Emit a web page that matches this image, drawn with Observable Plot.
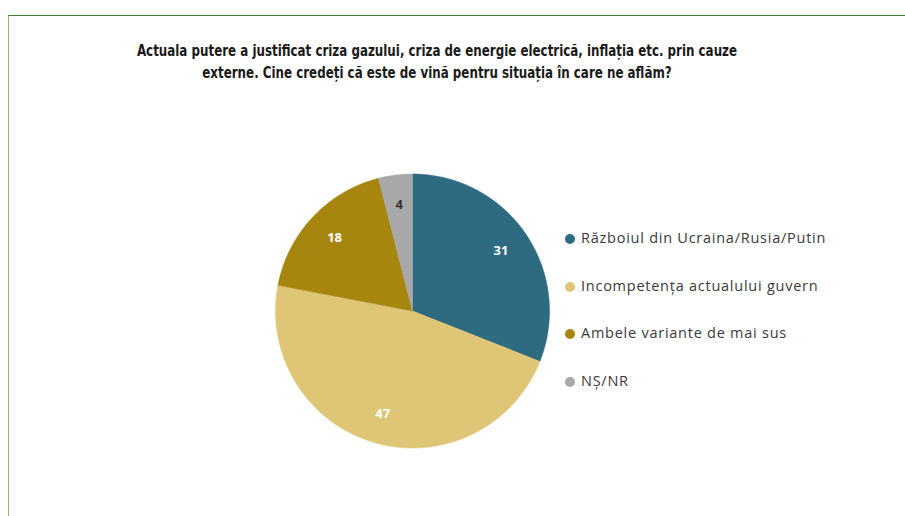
<!DOCTYPE html>
<html>
<head>
<meta charset="utf-8">
<script src="https://cdn.jsdelivr.net/npm/d3@7"></script>
<script src="https://cdn.jsdelivr.net/npm/@observablehq/plot@0.6"></script>
<style>
  html, body { margin: 0; padding: 0; background: #fff; width: 905px; height: 516px; overflow: hidden; }
  #frame { position: absolute; left: 8px; top: 15px; width: 1000px; height: 600px;
    border-top: 1.5px solid #3d7d2e; border-left: 1px solid #86bd74; box-sizing: border-box; }
  #title { position: absolute; left: 0; top: 40px; width: 874px; text-align: center;
    font-family: "Liberation Sans Narrow", "DejaVu Sans Condensed", "DejaVu Sans", sans-serif; font-weight: bold;
    font-size: 15px; line-height: 22px; color: #1a1a1a; transform: scaleX(0.88); transform-origin: 437px 0; }
  #chart { position: absolute; left: 0; top: 0; }
  #legend { position: absolute; left: 565px; top: 228px; font-family: "Open Sans", sans-serif;
    font-size: 14.5px; letter-spacing: 0.75px; color: #3a3a3a; }
  .item { height: 47.5px; display: flex; align-items: flex-start; }
  .sw { width: 10px; height: 10px; border-radius: 50%; margin-top: 6px; margin-right: 6px; }
</style>
</head>
<body>
<div id="frame"></div>
<div id="chart"></div>
<div id="title">Actuala putere a justificat criza gazului, criza de energie electrică, inflația etc. prin cauze<br>externe. Cine credeți că este de vină pentru situația în care ne aflăm?</div>
<div id="legend"></div>
<script>
const categories = ["Războiul din Ucraina/Rusia/Putin", "Incompetența actualului guvern", "Ambele variante de mai sus", "NȘ/NR"];
const values = [31, 47, 18, 4];
const colors = ["#2f6b80", "#dfc676", "#a7860f", "#a8a8a8"];
const labelColors = ["#ffffff", "#ffffff", "#ffffff", "#333333"];

const arcs = d3.pie().sort(null).value(d => d)(values);

// polygon vertices for each slice (angle measured clockwise from 12 o'clock)
const poly = [];
arcs.forEach((a, i) => {
  poly.push({cat: categories[i], x: 0, y: 0});
  const n = Math.max(4, Math.ceil((a.endAngle - a.startAngle) / 0.01));
  for (let k = 0; k <= n; k++) {
    const t = a.startAngle + (a.endAngle - a.startAngle) * k / n;
    poly.push({cat: categories[i], x: Math.sin(t), y: Math.cos(t)});
  }
  poly.push({cat: categories[i], x: 0, y: 0});
});
const labels = arcs.map((a, i) => {
  const m = (a.startAngle + a.endAngle) / 2;
  return {cat: categories[i], v: values[i], x: 0.78 * Math.sin(m), y: 0.78 * Math.cos(m), c: labelColors[i]};
});

const chart = Plot.plot({
  width: 905, height: 516,
  marginLeft: 275, marginRight: 905 - 549, marginTop: 173.5, marginBottom: 516 - 447.5,
  x: {domain: [-1, 1], axis: null},
  y: {domain: [-1, 1], axis: null},
  color: {domain: categories, range: colors},
  style: {background: "transparent", overflow: "visible"},
  marks: [
    Plot.line(poly, {x: "x", y: "y", z: "cat", fill: "cat", stroke: "cat", strokeWidth: 0.5, curve: "linear"}),
    Plot.text(labels, {x: "x", y: "y", text: "v", fill: "c", fontWeight: "bold", fontSize: 13,
      fontFamily: "Open Sans, sans-serif"})
  ]
});
document.getElementById("chart").appendChild(chart);

const leg = d3.select("#legend");
categories.forEach((c, i) => {
  const it = leg.append("div").attr("class", "item");
  it.append("div").attr("class", "sw").style("background", colors[i]);
  it.append("span").text(c);
});
</script>
</body>
</html>
